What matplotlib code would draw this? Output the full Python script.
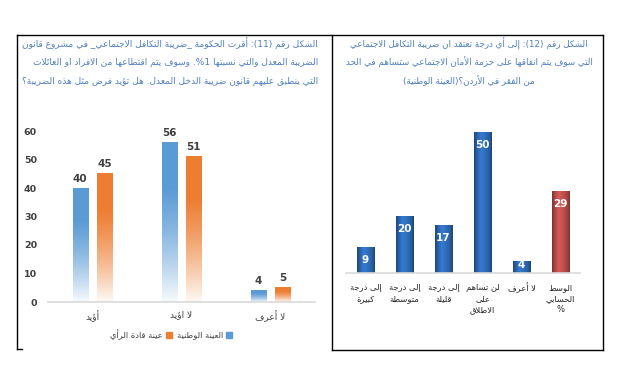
import re
import numpy as np
import matplotlib
matplotlib.use('Agg')
import matplotlib.pyplot as plt
from matplotlib.lines import Line2D
from matplotlib.colors import to_rgb

plt.rcParams['font.family'] = ['DejaVu Sans']

# ---- data ----
left_title = ["الشكل رقم (11): أقرت الحكومة _ضريبة التكافل الاجتماعي_ في مشروع قانون",
              "الضريبة المعدل والتي نسبتها 1%. وسوف يتم اقتطاعها من الافراد او العائلات",
              "التي ينطبق عليهم قانون ضريبة الدخل المعدل. هل تؤيد فرض مثل هذه الضريبة؟"]
left_cats = ["أؤيد", "لا اؤيد", "لا أعرف"]
national = [40, 56, 4]
leaders = [45, 51, 5]
series_names = ["العينة الوطنية", "عينة قادة الرأي"]

right_title = ["الشكل رقم (12): إلى أي درجة تعتقد ان ضريبة التكافل الاجتماعي",
               "التي سوف يتم انفاقها على حزمة الأمان الاجتماعي ستساهم في الحد",
               "من الفقر في الأردن؟(العينة الوطنية)"]
right_cats = ["إلى درجة\nكبيرة", "إلى درجة\nمتوسطة", "إلى درجة\nقليلة",
              "لن تساهم\nعلى\nالاطلاق", "لا أعرف", "الوسط\nالحسابي\n%"]
right_vals = [9, 20, 17, 50, 4, 29]

# ---- tiny arabic shaper (matplotlib has no text shaping) ----
order = [('ء', 1), ('آ', 2), ('أ', 2), ('ؤ', 2), ('إ', 2), ('ئ', 4), ('ا', 2), ('ب', 4),
         ('ة', 2), ('ت', 4), ('ث', 4), ('ج', 4), ('ح', 4), ('خ', 4), ('د', 2), ('ذ', 2),
         ('ر', 2), ('ز', 2), ('س', 4), ('ش', 4), ('ص', 4), ('ض', 4), ('ط', 4), ('ظ', 4),
         ('ع', 4), ('غ', 4), ('ف', 4), ('ق', 4), ('ك', 4), ('ل', 4), ('م', 4), ('ن', 4),
         ('ه', 4), ('و', 2), ('ى', 2), ('ي', 4)]
FORMS = {}
cp = 0xFE80
for ch, n in order:
    FORMS[ch] = [chr(cp + k) for k in range(n)]
    cp += n
LAM_ALEF = {'آ': 0xFEF5, 'أ': 0xFEF7, 'إ': 0xFEF9, 'ا': 0xFEFB}


def shape(s):
    out = []
    i = 0
    while i < len(s):
        c = s[i]
        prev = s[i - 1] if i > 0 else ''
        jp = prev in FORMS and len(FORMS[prev]) == 4
        if c == 'ل' and i + 1 < len(s) and s[i + 1] in LAM_ALEF:
            out.append(chr(LAM_ALEF[s[i + 1]] + (1 if jp else 0)))
            i += 2
            continue
        if c in FORMS:
            f = FORMS[c]
            nxt = s[i + 1] if i + 1 < len(s) else ''
            jn = len(f) == 4 and nxt in FORMS and nxt != 'ء'
            if len(f) == 1:
                g = f[0]
            elif jp and jn:
                g = f[3]
            elif jp:
                g = f[1]
            elif jn:
                g = f[2]
            else:
                g = f[0]
            out.append(g)
        else:
            out.append(c)
        i += 1
    return ''.join(out)


def ar(s):
    lines = []
    for line in s.split('\n'):
        t = shape(line)[::-1]
        t = re.sub(r'[0-9]+', lambda m: m.group(0)[::-1], t)
        t = t.translate(str.maketrans('()', ')('))
        lines.append(t)
    return '\n'.join(lines)


W, H = 625, 366
fig = plt.figure(figsize=(W / 100, H / 100), dpi=100)
fig.patch.set_facecolor('white')
renderer = fig.canvas.get_renderer()


def fx(px):
    return px / W


def fy(py):
    return 1 - py / H


def width_px(t):
    return t.get_window_extent(renderer).width


def fit_all(texts, maxw):
    # one common font size, small enough for the widest line
    fs = texts[0].get_fontsize()
    while max(width_px(t) for t in texts) > maxw and fs > 4:
        fs -= 0.1
        for t in texts:
            t.set_fontsize(fs)


# panel frames
for xs, ys in [([17, 603], [35, 35]), ([17, 17], [35, 349]), ([17, 22], [349, 349]),
               ([332, 332], [35, 350]), ([603, 603], [35, 350]), ([332, 603], [350, 350])]:
    fig.add_artist(Line2D([fx(x) for x in xs], [fy(y) for y in ys], color='black', lw=1.0))

title_col = '#4f7fbf'
tl = [fig.text(fx(318), fy(44 + 18.5 * k), ar(line), ha='right', va='center',
               fontsize=7.5, color=title_col) for k, line in enumerate(left_title)]
fit_all(tl, 298)
tr = [fig.text(fx(469), fy(44 + 18.5 * k), ar(line), ha='center', va='center',
               fontsize=7.5, color=title_col) for k, line in enumerate(right_title)]
fit_all(tr, 250)


def vgrad(color, n=100):
    rgb = np.array(to_rgb(color))
    t = np.linspace(0, 1, n)[:, None]  # 0 top, 1 bottom
    a = np.clip(1.15 - 1.1 * t ** 1.6, 0, 1)
    img = np.ones((n, 1, 4))
    img[:, 0, :3] = rgb
    img[:, 0, 3] = a[:, 0]
    return img


def hgrad(color, n=40):
    rgb = np.array(to_rgb(color))
    u = np.linspace(-1, 1, n)
    shade = 1.0 - 0.35 * np.abs(u) ** 2.2 + 0.12 * np.exp(-((u + 0.25) / 0.35) ** 2)
    img = np.ones((1, n, 4))
    img[0, :, :3] = np.clip(rgb[None, :] * shade[:, None], 0, 1)
    return img


# ---- left chart ----
ax = fig.add_axes([fx(48), fy(302), fx(315) - fx(48), fy(131) - fy(302)])
x = np.arange(len(left_cats))
bw = 0.17
off = 0.138
cols = ['#5b9bd5', '#ed7d31']
for vals, o, c in [(national, -off, cols[0]), (leaders, off, cols[1])]:
    for xi, v in zip(x, vals):
        ax.imshow(vgrad(c), extent=[xi + o - bw / 2, xi + o + bw / 2, 0, v],
                  aspect='auto', zorder=2, interpolation='bilinear')
        ax.text(xi + o, v + 1.5, str(v), ha='center', va='bottom', fontsize=7.5,
                fontweight='bold', color='#404040')
ax.set_xlim(-0.5, 2.5)
ax.set_ylim(0, 60)
ax.set_yticks(range(0, 61, 10))
ax.set_xticks(x)
ax.set_xticklabels([ar(c) for c in left_cats], fontsize=6.5, color='#404040')
ax.tick_params(axis='y', labelsize=6.8, colors='#404040', length=0, pad=8)
ax.tick_params(axis='x', length=0, pad=6)
for lab in ax.get_yticklabels():
    lab.set_fontweight('bold')
for s in ['top', 'right', 'left']:
    ax.spines[s].set_visible(False)
ax.spines['bottom'].set_color('#d9d9d9')
ax.spines['bottom'].set_linewidth(1.2)
ax.set_facecolor('none')

# legend (RTL order: text then marker), laid out right to left from x=232
xr_edge = 232
for name, c in [(series_names[0], cols[0]), (series_names[1], cols[1])]:
    fig.patches.append(plt.Rectangle((fx(xr_edge - 6), fy(338)), fx(6), 6 / H,
                                     transform=fig.transFigure, color=c, figure=fig))
    t = fig.text(fx(xr_edge - 9), fy(335), ar(name), ha='right', va='center',
                 fontsize=6.0, color='#404040')
    xr_edge = xr_edge - 9 - width_px(t) - 5

# ---- right chart ----
ax2 = fig.add_axes([fx(346), fy(273), fx(580) - fx(346), fy(132) - fy(273)])
xr = np.arange(len(right_vals))
bw2 = 0.44
for xi, v in zip(xr, right_vals):
    c = '#c0504d' if xi == len(right_vals) - 1 else '#2f6dbb'
    ax2.imshow(hgrad(c), extent=[xi - bw2 / 2, xi + bw2 / 2, 0, v], aspect='auto',
               zorder=2, interpolation='bilinear')
    ly = v - 4.5 if v > 6 else v * 0.7
    ax2.text(xi, ly, str(v), ha='center', va='center', fontsize=7.5, fontweight='bold',
             color='white', zorder=3)
ax2.set_xlim(-0.5, 5.5)
ax2.set_ylim(0, 50)
ax2.set_yticks([])
ax2.set_xticks(xr)
ax2.set_xticklabels([ar(c) for c in right_cats], fontsize=6.0, color='#262626',
                    linespacing=1.3, va='top')
ax2.tick_params(axis='x', length=0, pad=7)
for s in ['top', 'right', 'left']:
    ax2.spines[s].set_visible(False)
ax2.spines['bottom'].set_color('#d9d9d9')
ax2.spines['bottom'].set_linewidth(1.2)
ax2.set_facecolor('none')

fig.savefig('out.png', dpi=100)
